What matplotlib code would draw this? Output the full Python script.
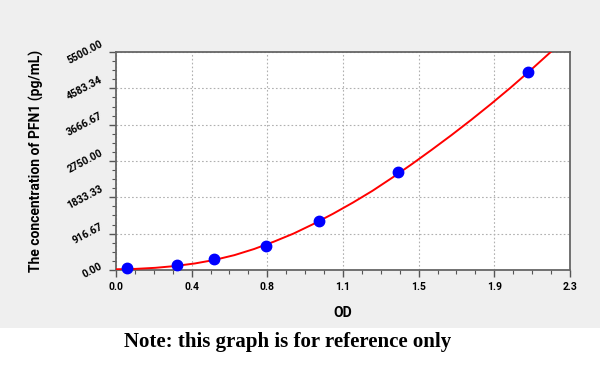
import numpy as np
import matplotlib
matplotlib.use("Agg")
import matplotlib.pyplot as plt
from matplotlib.patches import Rectangle
from matplotlib.ticker import AutoMinorLocator

plt.rcParams['font.family'] = ['Roboto', 'DejaVu Sans']

# standard points
od = [0.054, 0.307, 0.497, 0.761, 1.027, 1.430, 2.086]
conc = [45, 120, 280, 605, 1240, 2480, 4985]

# fitted curve, read at steps along x
curve_od = [0.0, 0.1, 0.2, 0.3, 0.4, 0.5, 0.6, 0.7, 0.8, 0.9, 1.0, 1.1,
            1.2, 1.3, 1.4, 1.5, 1.6, 1.7, 1.8, 1.9, 2.0, 2.1, 2.2, 2.21]
curve_conc = [18, 28, 55, 100, 165, 255, 375, 530, 715, 920, 1160, 1420,
              1700, 2000, 2330, 2675, 3035, 3405, 3790, 4190, 4605, 5040, 5490, 5535]

xticks = [0.0, 2.3 / 6, 2.3 * 2 / 6, 2.3 * 3 / 6, 2.3 * 4 / 6, 2.3 * 5 / 6, 2.3]
xtick_labels = ["0.0", "0.4", "0.8", "1.1", "1.5", "1.9", "2.3"]
yticks = [0, 916.67, 1833.33, 2750.0, 3666.67, 4583.34, 5500.0]
ytick_labels = ["0.00", "916.67", "1833.33", "2750.00", "3666.67", "4583.34", "5500.00"]

fig = plt.figure(figsize=(6, 3.65), dpi=100)
fig.patch.set_facecolor("white")
fig.patches.append(Rectangle((0, 0.1014), 1, 0.8986, transform=fig.transFigure,
                             facecolor="#efefef", edgecolor="none", zorder=-10))

ax = fig.add_axes([0.1933, 0.2603, 0.7567, 0.5972])
ax.set_facecolor("white")

ax.plot(curve_od, curve_conc, color="red", lw=1.4, zorder=3, clip_on=True)
ax.plot(od, conc, "o", color="#0000ff", markersize=7.5, zorder=4, clip_on=False)

ax.set_xlim(0, 2.3)
ax.set_ylim(0, 5500)
ax.set_xticks(xticks)
ax.set_xticklabels(xtick_labels)
ax.set_yticks(yticks)
ax.set_yticklabels(ytick_labels, rotation=28, va="center")
ax.xaxis.set_minor_locator(AutoMinorLocator(4))
ax.yaxis.set_minor_locator(AutoMinorLocator(4))

ax.grid(True, which="major", color="#b0b0b0", linestyle=(0, (1.5, 2)), lw=0.8)
ax.tick_params(which="major", length=5, width=1, color="#555555", direction="out")
ax.tick_params(which="minor", length=3, width=0.8, color="#555555", direction="out")
ax.tick_params(labelsize=7.5)
for lab in ax.get_xticklabels() + ax.get_yticklabels():
    lab.set_fontweight("bold")
for s in ax.spines.values():
    s.set_color("#666666")
    s.set_linewidth(1.3)

ax.set_xlabel("OD", fontsize=10, fontweight="bold", labelpad=10)
ax.set_ylabel("The concentration of PFN1 (pg/mL)", fontsize=10, fontweight="bold", labelpad=15)

fig.text(0.207, 0.035, "Note: this graph is for reference only", fontsize=15,
         fontweight="bold", family="Liberation Serif", ha="left", va="bottom")

fig.savefig("out.png", dpi=100)
